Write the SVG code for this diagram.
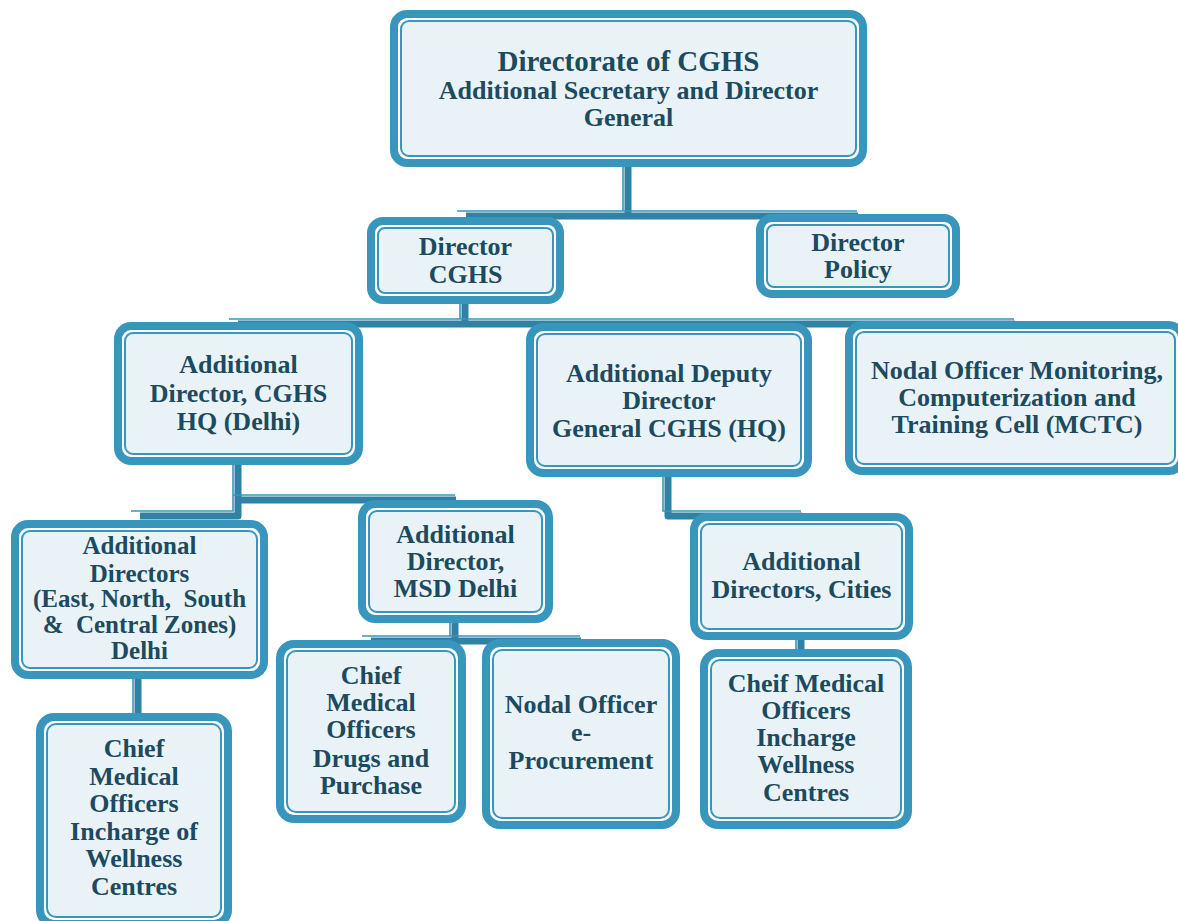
<svg xmlns="http://www.w3.org/2000/svg" width="1178" height="921" viewBox="0 0 1178 921">
<style>
.o{fill:#ffffff;stroke:#3895bc;stroke-width:8}
.i{fill:#e9f3f7;stroke:#3895bc;stroke-width:2}
.t{font-family:"Liberation Serif","Times New Roman",serif;font-weight:bold;font-size:26px;fill:#1c4a5e;text-anchor:middle;white-space:pre}
.big{font-size:29px}
.sm{font-size:25px}
.ck{fill:none;stroke:#2f82a4;stroke-width:7;stroke-linejoin:round}
.cn{fill:none;stroke:#3895bc;stroke-width:1.6}
</style>
<rect width="1178" height="921" fill="#ffffff"/>
<g id="connectors">
  <path class="ck" d="M628,167 V216 H858 M628,216 H466"/>
  <path class="ck" d="M465,304 V324 H1015 M465,324 H238"/>
  <path class="ck" d="M238,465 V516 H140 M238,500 H456"/>
  <path class="ck" d="M668,477 V516 H802"/>
  <path class="ck" d="M138,679 V713"/>
  <path class="ck" d="M455,623 V641 H371 M455,641 H581"/>
  <path class="ck" d="M801,640 V649"/>
  <g transform="translate(-5,-5)">
    <path class="cn" d="M628,172 V216 H862 M628,216 H462"/>
    <path class="cn" d="M465,309 V324 H1019 M465,324 H234"/>
    <path class="cn" d="M238,470 V516 H136 M238,500 H460"/>
    <path class="cn" d="M668,482 V516 H806"/>
    <path class="cn" d="M138,684 V718"/>
    <path class="cn" d="M455,628 V641 H367 M455,641 H585"/>
    <path class="cn" d="M801,645 V654"/>
  </g>
</g>
<g id="n-top">
  <rect class="o" x="394" y="14" width="469" height="149" rx="13"/>
  <rect class="i" x="401" y="21" width="455" height="135" rx="8"/>
  <text class="t big" x="628.5" y="71">Directorate of CGHS</text>
  <text class="t" x="628.5" y="99">Additional Secretary and Director</text>
  <text class="t" x="628.5" y="126">General</text>
</g>
<g id="n-dircghs">
  <rect class="o" x="371" y="221" width="189" height="79" rx="12"/>
  <rect class="i" x="378" y="228" width="175" height="65" rx="7"/>
  <text class="t" x="465.5" y="255">Director</text>
  <text class="t" x="465.5" y="283">CGHS</text>
</g>
<g id="n-policy">
  <rect class="o" x="760" y="218" width="196" height="76" rx="12"/>
  <rect class="i" x="767" y="225" width="182" height="62" rx="7"/>
  <text class="t" x="858" y="251">Director</text>
  <text class="t" x="858" y="278">Policy</text>
</g>
<g id="n-adhq">
  <rect class="o" x="118" y="326" width="241" height="135" rx="13"/>
  <rect class="i" x="125" y="333" width="227" height="121" rx="8"/>
  <text class="t" x="238.5" y="373">Additional</text>
  <text class="t" x="238.5" y="402">Director, CGHS</text>
  <text class="t" x="238.5" y="430">HQ (Delhi)</text>
</g>
<g id="n-adddg">
  <rect class="o" x="530" y="327" width="278" height="146" rx="13"/>
  <rect class="i" x="537" y="334" width="264" height="132" rx="8"/>
  <text class="t" x="669" y="382">Additional Deputy</text>
  <text class="t" x="669" y="409">Director</text>
  <text class="t" x="669" y="437">General CGHS (HQ)</text>
</g>
<g id="n-mctc">
  <rect class="o" x="849" y="325" width="333" height="146" rx="13"/>
  <rect class="i" x="856" y="332" width="319" height="132" rx="8"/>
  <text class="t" x="1017" y="379">Nodal Officer Monitoring,</text>
  <text class="t" x="1017" y="406">Computerization and</text>
  <text class="t" x="1017" y="433">Training Cell (MCTC)</text>
</g>
<g id="n-zones">
  <rect class="o" x="15" y="524" width="249" height="151" rx="13"/>
  <rect class="i" x="22" y="531" width="235" height="137" rx="8"/>
  <text class="t sm" x="139.5" y="554">Additional</text>
  <text class="t sm" x="139.5" y="582">Directors</text>
  <text class="t sm" x="139.5" y="607">(East, North,  South</text>
  <text class="t sm" x="139.5" y="633">&amp;  Central Zones)</text>
  <text class="t sm" x="139.5" y="659">Delhi</text>
</g>
<g id="n-msd">
  <rect class="o" x="362" y="504" width="187" height="115" rx="13"/>
  <rect class="i" x="369" y="511" width="173" height="101" rx="8"/>
  <text class="t" x="455.5" y="543">Additional</text>
  <text class="t" x="455.5" y="570">Director,</text>
  <text class="t" x="455.5" y="597">MSD Delhi</text>
</g>
<g id="n-cities">
  <rect class="o" x="694" y="517" width="215" height="119" rx="13"/>
  <rect class="i" x="701" y="524" width="201" height="105" rx="8"/>
  <text class="t" x="801.5" y="570">Additional</text>
  <text class="t" x="801.5" y="598">Directors, Cities</text>
</g>
<g id="n-drugs">
  <rect class="o" x="280" y="644" width="182" height="175" rx="14"/>
  <rect class="i" x="287" y="651" width="168" height="161" rx="9"/>
  <text class="t" x="371" y="684">Chief</text>
  <text class="t" x="371" y="711">Medical</text>
  <text class="t" x="371" y="738">Officers</text>
  <text class="t" x="371" y="767">Drugs and</text>
  <text class="t" x="371" y="794">Purchase</text>
</g>
<g id="n-eproc">
  <rect class="o" x="486" y="643" width="190" height="182" rx="14"/>
  <rect class="i" x="493" y="650" width="176" height="168" rx="9"/>
  <text class="t" x="581" y="713">Nodal Officer</text>
  <text class="t" x="581" y="741">e-</text>
  <text class="t" x="581" y="769">Procurement</text>
</g>
<g id="n-chiefL">
  <rect class="o" x="40" y="717" width="188" height="207" rx="14"/>
  <rect class="i" x="47" y="724" width="174" height="193" rx="9"/>
  <text class="t" x="134" y="757">Chief</text>
  <text class="t" x="134" y="785">Medical</text>
  <text class="t" x="134" y="812">Officers</text>
  <text class="t" x="134" y="840">Incharge of</text>
  <text class="t" x="134" y="867">Wellness</text>
  <text class="t" x="134" y="895">Centres</text>
</g>
<g id="n-cheifR">
  <rect class="o" x="704" y="653" width="204" height="172" rx="14"/>
  <rect class="i" x="711" y="660" width="190" height="158" rx="9"/>
  <text class="t" x="806" y="692">Cheif Medical</text>
  <text class="t" x="806" y="719">Officers</text>
  <text class="t" x="806" y="746">Incharge</text>
  <text class="t" x="806" y="773">Wellness</text>
  <text class="t" x="806" y="801">Centres</text>
</g>
</svg>
